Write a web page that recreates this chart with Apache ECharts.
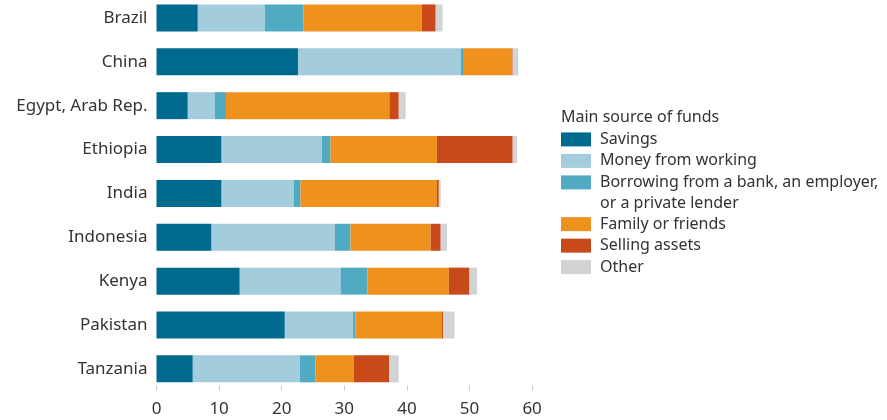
<!DOCTYPE html>
<html><head><meta charset="utf-8">
<script src="https://cdn.jsdelivr.net/npm/echarts@6/dist/echarts.min.js"></script>
<style>html,body{margin:0;padding:0;background:#fff;overflow:hidden}#c{position:relative;top:-4.4px;width:887px;height:424.4px}</style>
</head><body><div id="c"></div>
<script>
const categories = ["Brazil","China","Egypt, Arab Rep.","Ethiopia","India","Indonesia","Kenya","Pakistan","Tanzania"];
const savings   = [6.6, 22.6, 5.0, 10.4, 10.4, 8.8, 13.3, 20.5, 5.8];
const working   = [10.7, 26.0, 4.3, 16.0, 11.5, 19.7, 16.1, 10.9, 17.1];
const borrowing = [6.2, 0.5, 1.8, 1.4, 1.1, 2.5, 4.3, 0.4, 2.5];
const family    = [18.9, 7.7, 26.1, 17.0, 21.8, 12.8, 13.0, 13.8, 6.1];
const selling   = [2.2, 0.1, 1.5, 12.1, 0.3, 1.6, 3.3, 0.2, 5.7];
const other     = [1.1, 0.9, 1.1, 0.7, 0.3, 1.0, 1.2, 1.8, 1.5];
const xTicks = [0, 10, 20, 30, 40, 50, 60];
const seriesNames = ["Savings","Money from working","Borrowing from a bank, an employer,","Family or friends","Selling assets","Other"];
const colors = ["#006A8E","#A3CCDC","#50ABC2","#EF911D","#C8491A","#D2D3D5"];
const values = [savings, working, borrowing, family, selling, other];
const FONT = "Noto Sans";
const FS = 16;
const DY = 4.4;
const chart = echarts.init(document.getElementById('c'));
chart.setOption({
  animation: false,
  textStyle: {fontFamily: FONT},
  grid: {left: 156.5, width: 375.6, top: 0, height: 394.8, containLabel: false},
  xAxis: {
    type: 'value', min: xTicks[0], max: xTicks[xTicks.length-1], interval: 10,
    axisLine: {show: false},
    axisTick: {show: true, inside: true, length: 5, lineStyle: {color: '#c8c8c8'}},
    splitLine: {show: false},
    axisLabel: {color: '#333', fontSize: 17, fontFamily: FONT, margin: 10}
  },
  yAxis: {
    type: 'category', data: categories, inverse: true,
    axisLine: {show: false}, axisTick: {show: false},
    axisLabel: {color: '#333', fontSize: 17, fontFamily: FONT, margin: 9}
  },
  legend: [
    {data: seriesNames.slice(0,3), orient: 'vertical', left: 561, top: 128.25 + DY, padding: 0, itemWidth: 30, itemHeight: 14, itemGap: 0,
     icon: 'rect', selectedMode: false,
     textStyle: {color: '#333', fontSize: FS, fontFamily: FONT, lineHeight: 21.5, padding: [0,0,0,4]}},
    {data: seriesNames.slice(3), orient: 'vertical', left: 561, top: 213 + DY, padding: 0, itemWidth: 30, itemHeight: 14, itemGap: 0,
     icon: 'rect', selectedMode: false,
     textStyle: {color: '#333', fontSize: FS, fontFamily: FONT, lineHeight: 21.5, padding: [0,0,0,4]}}
  ],
  graphic: [
    {type: 'text', left: 561, top: 106 + DY, style: {text: 'Main source of funds', fill: '#333', fontSize: FS, fontFamily: FONT, lineHeight: 21.5}},
    {type: 'text', left: 600, top: 192 + DY, style: {text: 'or a private lender', fill: '#333', fontSize: FS, fontFamily: FONT, lineHeight: 21.5}}
  ],
  series: seriesNames.map((n, i) => ({
    name: n, type: 'bar', stack: 'all', data: values[i], barWidth: 27,
    itemStyle: {color: colors[i]}, emphasis: {disabled: true}
  }))
});
</script></body></html>
